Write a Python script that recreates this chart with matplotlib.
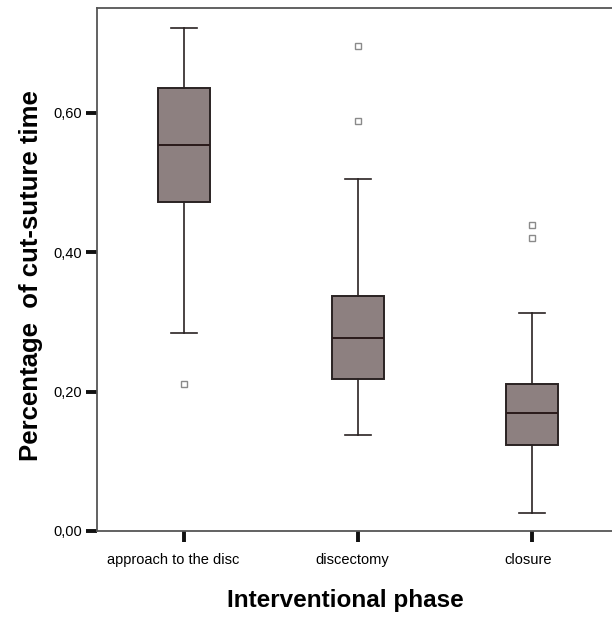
import matplotlib
matplotlib.use("Agg")
import matplotlib.pyplot as plt
from matplotlib.transforms import ScaledTranslation

plt.rcParams['font.family'] = ['Liberation Sans', 'DejaVu Sans']

# Phase categories and box statistics (fraction of cut-suture time)
phases = ["approach to the disc", "discectomy", "closure"]
whisker_low = [0.284, 0.138, 0.026]
quartile_1 = [0.472, 0.218, 0.123]
medians = [0.553, 0.277, 0.169]
quartile_3 = [0.635, 0.337, 0.211]
whisker_high = [0.721, 0.505, 0.312]
outliers = [[0.211], [0.588, 0.695], [0.420, 0.439]]

y_ticks = [0.0, 0.2, 0.4, 0.6]
y_tick_labels = ["0,00", "0,20", "0,40", "0,60"]

stats = []
for i, name in enumerate(phases):
    stats.append(dict(label=name, whislo=whisker_low[i], q1=quartile_1[i],
                      med=medians[i], q3=quartile_3[i], whishi=whisker_high[i],
                      fliers=outliers[i]))

fig = plt.figure(figsize=(6.12, 6.21), dpi=100)
ax = fig.add_axes([97 / 612, 90 / 621, 522 / 612, 523 / 621])

edge = "#2a2222"
ax.bxp(stats, positions=range(len(phases)), widths=0.30, patch_artist=True,
       boxprops=dict(facecolor="#8d8080", edgecolor=edge, linewidth=1.4),
       medianprops=dict(color="#2a1a1a", linewidth=1.4),
       whiskerprops=dict(color=edge, linewidth=1.2),
       capprops=dict(color=edge, linewidth=1.2),
       capwidths=0.15,
       flierprops=dict(marker="s", markersize=5, markerfacecolor="none",
                       markeredgecolor="#8a8a8a", markeredgewidth=1.0))

ax.set_xlim(-0.5, 2.5)
ax.set_ylim(0, 0.75)
ax.set_yticks(y_ticks)
ax.set_yticklabels(y_tick_labels)
ax.set_xticks(range(len(phases)))
ax.set_xticklabels(phases)

for side in ["left", "bottom", "top", "right"]:
    ax.spines[side].set_color("#555555")
    ax.spines[side].set_linewidth(1.3)

ax.tick_params(axis="both", direction="out", length=8, width=2.8,
               color="#111111", labelsize=10.5, pad=3)
ax.tick_params(axis="x", pad=8)

ax.set_ylabel("Percentage  of cut-suture time", fontsize=18.5, fontweight="bold")
ax.yaxis.set_label_coords(-0.127, 0.488)
ax.yaxis.label.set_va("center")
ax.set_xlabel("Interventional phase", fontsize=17.5, fontweight="bold")
ax.xaxis.set_label_coords(0.475, -0.132)
ax.xaxis.label.set_va("center")

# category labels sit slightly left of their ticks, proportional to their width
fig.canvas.draw()
renderer = fig.canvas.get_renderer()
for lbl in ax.get_xticklabels():
    w = lbl.get_window_extent(renderer).width
    lbl.set_transform(lbl.get_transform() +
                      ScaledTranslation(-0.08 * w / fig.dpi, 0, fig.dpi_scale_trans))

fig.savefig("out.png", dpi=100)
